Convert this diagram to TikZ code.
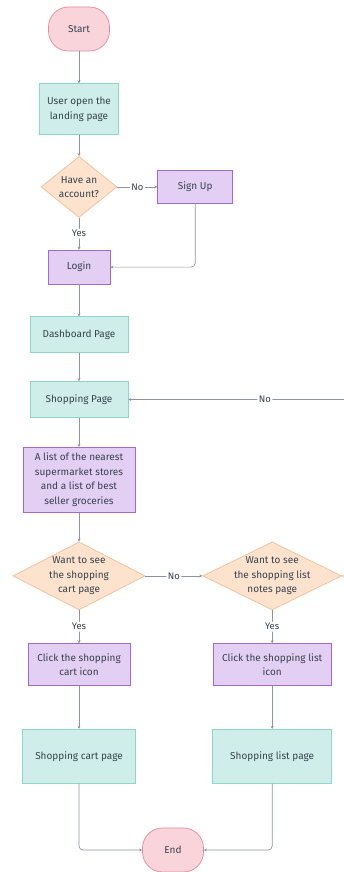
\documentclass[tikz,border=0pt]{standalone}
\usepackage{fontspec}
\setmainfont{Fira Sans}
\usetikzlibrary{positioning,calc,arrows.meta,shapes.geometric}
\definecolor{termfill}{HTML}{F9D5DB}
\definecolor{termline}{HTML}{E3899A}
\definecolor{pagefill}{HTML}{CFEEEA}
\definecolor{pageline}{HTML}{8AD8CB}
\definecolor{actfill}{HTML}{E3CFF3}
\definecolor{actline}{HTML}{A567D1}
\definecolor{askfill}{HTML}{FDE3CD}
\definecolor{askline}{HTML}{F1BE94}
\definecolor{wire}{HTML}{8C959F}
\definecolor{ink}{HTML}{36424E}

\begin{document}
\begin{tikzpicture}[
    x=1pt, y=1pt,
    node distance=32pt and 40pt,
    box/.style={rectangle, draw, line width=0.7pt, inner sep=2pt, font=\fontsize{10}{14.5}\selectfont, text=ink, align=center},
    term/.style={box, fill=termfill, draw=termline, rounded corners=20pt, minimum width=61pt, minimum height=44pt},
    page/.style={box, fill=pagefill, draw=pageline},
    act/.style={box, fill=actfill, draw=actline},
    ask/.style={diamond, draw=askline, fill=askfill, line width=0.7pt, inner sep=0pt},
    asktext/.style={font=\fontsize{10}{14.5}\selectfont, text=ink, align=center},
    arr/.style={-{Stealth[length=3pt, width=3pt]}, draw=wire, line width=0.7pt, rounded corners=4pt},
    lbl/.style={font=\fontsize{9.5}{11}\selectfont, text=ink, fill=white, inner sep=1.5pt}
]
    \useasboundingbox (0,0) rectangle (343,-872);

    % main column
    \node[term] (start) at (79,-29) {Start};
    \node[page, minimum width=79pt, minimum height=51pt, below=32pt of start] (landing) {User open the\\landing page};
    \node[ask, minimum width=76pt, minimum height=61pt, below=21pt of landing,
          label={[asktext]center:Have an\\account?}] (account) {};
    \node[act, minimum width=75pt, minimum height=33pt, right=40pt of account] (signup) {Sign Up};
    \node[act, minimum width=62pt, minimum height=34pt, below=32pt of account] (login) {Login};
    \node[page, minimum width=98pt, minimum height=36pt, below=32pt of login] (dash) {Dashboard Page};
    \node[page, minimum width=98pt, minimum height=36pt, below=28pt of dash] (shop) {Shopping Page};
    \node[act, minimum width=112pt, minimum height=65pt, below=29pt of shop] (stores) {A list of the nearest\\supermarket stores\\and a list of best\\seller groceries};

    % the two questions
    \node[ask, minimum width=132pt, minimum height=68pt, below=29pt of stores,
          label={[asktext]center:Want to see\\the shopping\\cart page}] (cartq) {};
    \node[ask, minimum width=139pt, minimum height=68pt, right=57pt of cartq,
          label={[asktext]center:Want to see\\the shopping list\\notes page}] (listq) {};
    \node[act, minimum width=102pt, minimum height=42pt, below=33pt of cartq] (cartclick) {Click the shopping\\cart icon};
    \node[act, minimum width=118pt, minimum height=42pt, below=33pt of listq] (listclick) {Click the shopping list\\icon};
    \node[page, minimum width=113pt, minimum height=54pt, below=43pt of cartclick] (cartpage) {Shopping cart page};
    \node[page, minimum width=119pt, minimum height=54pt, below=43pt of listclick] (listpage) {Shopping list page};
    \node[term] (end) at (173,-850) {End};

    \draw[arr] (start) -- (landing);
    \draw[arr] (landing) -- (account);
    \draw[arr] (account) -- node[lbl] {No} (signup);
    \draw[arr] (account) -- node[lbl] {Yes} (login);
    \draw[arr] (signup) |- (login);
    \draw[arr] (login) -- (dash);
    \draw[arr] (dash) -- (shop);
    \draw[arr] (shop) -- (stores);
    \draw[arr] (stores) -- (cartq);
    \draw[arr] (cartq) -- node[lbl] {No} (listq);
    \draw[arr] (cartq) -- node[lbl] {Yes} (cartclick);
    \draw[arr] (listq) -- node[lbl] {Yes} (listclick);
    \draw[arr] (listq.east) -- ++(30,0) |- node[lbl, pos=0.72] {No} (shop);
    \draw[arr] (cartclick) -- (cartpage);
    \draw[arr] (listclick) -- (listpage);
    \draw[arr] (cartpage) |- (end);
    \draw[arr] (listpage) |- (end);
\end{tikzpicture}
\end{document}
